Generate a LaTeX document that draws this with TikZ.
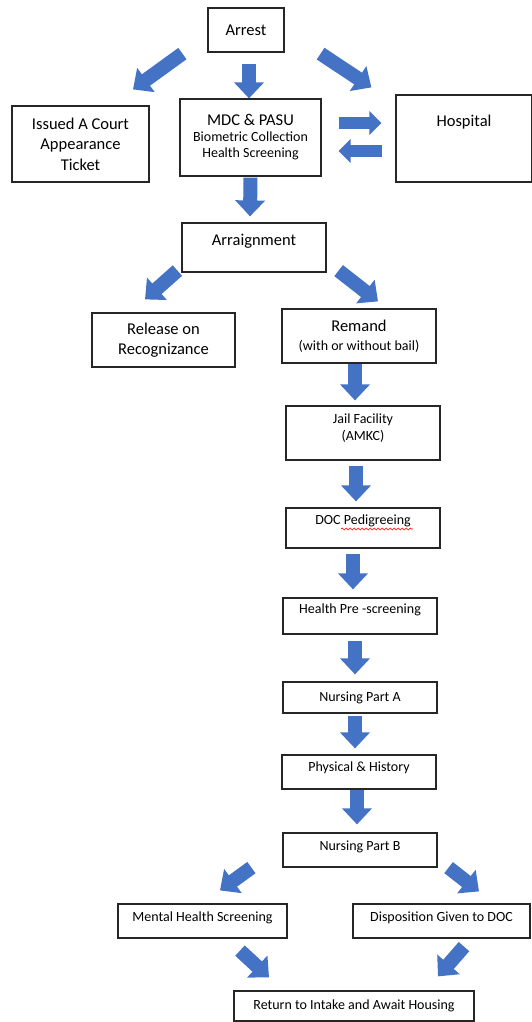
\documentclass[tikz,border=0pt]{standalone}
\usepackage{fontspec}
\setmainfont{Carlito}
\usepackage{tikz}
\usetikzlibrary{positioning,calc,arrows.meta,decorations.pathmorphing}
\definecolor{flowblue}{HTML}{4472C4}
\newcommand{\stagefont}{\fontsize{16.5}{20.5}\selectfont}
\newcommand{\smallstage}{\fontsize{14}{17}\selectfont}
\tikzset{
  stage/.style={draw=black!85, line width=1.2pt, align=center, inner sep=2pt, font=\stagefont},
  small/.style={font=\smallstage},
  lift/.style={text depth=#1},
  blockarrow/.style={flowblue, line width=14pt, -{Triangle[width=29pt,length=16pt]}},
  sidearrow/.style={flowblue, line width=12pt, -{Triangle[width=23pt,length=12pt]}}
}

\begin{document}
\begin{tikzpicture}[x=1pt, y=-1pt]
	\useasboundingbox (0,0) rectangle (531,1022);
	% boxes
	\node[stage, minimum width=76pt, minimum height=44pt] (arrest) at (246,30) {Arrest};
	\node[stage, minimum width=137pt, minimum height=76pt] (issued) at (80.5,144) {Issued A Court\\Appearance\\Ticket};
	\node[stage, minimum width=141pt, minimum height=77pt] (mdc) at (250.5,137.5) {MDC \& PASU\\[-5pt]{\smallstage Biometric Collection}\\[-4pt]{\smallstage Health Screening}};
	\node[stage, minimum width=136pt, minimum height=87pt, lift=36pt] (hospital) at (464,138.5) {Hospital};
	\node[stage, minimum width=144pt, minimum height=49pt, lift=15pt] (arraign) at (254,247.5) {Arraignment};
	\node[stage, minimum width=143pt, minimum height=54pt] (release) at (163.5,340) {Release on\\Recognizance};
	\node[stage, minimum width=154pt, minimum height=54pt] (remand) at (359,336) {Remand\\[-2pt]{\smallstage (with or without bail)}};
	\node[stage, small, minimum width=154pt, minimum height=54pt, lift=12pt] (jail) at (363,433) {Jail Facility\\(AMKC)};
	\node[stage, small, minimum width=154pt, minimum height=40pt, lift=16pt] (doc) at (363,528) {DOC Pedigreeing};
	\node[stage, small, minimum width=154pt, minimum height=36pt, lift=14pt] (prescreen) at (360,616) {Health Pre -screening};
	\node[stage, small, minimum width=154pt, minimum height=31pt] (nursea) at (360,697.5) {Nursing Part A};
	\node[stage, small, minimum width=154pt, minimum height=34pt, lift=10pt] (physical) at (359,772) {Physical \& History};
	\node[stage, small, minimum width=154pt, minimum height=34pt, lift=9pt] (nurseb) at (360,850) {Nursing Part B};
	\node[stage, small, minimum width=169pt, minimum height=34pt, lift=9pt] (mental) at (202.5,921) {Mental Health Screening};
	\node[stage, small, minimum width=177pt, minimum height=34pt, lift=9pt] (dispo) at (441.5,921) {Disposition Given to DOC};
	\node[stage, small, minimum width=240pt, minimum height=30pt] (returnh) at (354,1006) {Return to Intake and Await Housing};
	% spell-check mark
	\draw[red, line width=0.6pt, decorate, decoration={snake, amplitude=1pt, segment length=4pt}]
		($(doc.center)+(-22,1)$) -- ($(doc.center)+(50,1)$);
	% arrows
	\draw[blockarrow] ($(arrest.south west)+(-25,1)$) -- ($(issued.north)+(52.5,-16)$);
	\draw[blockarrow] ($(arrest.south)+(3,11)$) -- ($(mdc.north)+(-1.5,0)$);
	\draw[blockarrow] ($(arrest.south east)+(36,1)$) -- ($(hospital.north west)+(-24,-7)$);
	\draw[sidearrow] ($(mdc.east)+(17,-14.5)$) -- ($(hospital.west)+(-14,-15.5)$);
	\draw[sidearrow] ($(hospital.west)+(-13,12.5)$) -- ($(mdc.east)+(17,13.5)$);
	\draw[blockarrow] ($(mdc.south)+(0,1)$) -- ($(arraign.north)+(-4,-6)$);
	\draw[blockarrow] ($(arraign.south west)+(-4,-2)$) -- ($(release.north)+(-18.5,-13)$);
	\draw[blockarrow] ($(arraign.south east)+(12,-2)$) -- ($(remand.north)+(19,-7)$);
	\draw[blockarrow] ($(remand.south)+(-4,0)$) -- ($(jail.north)+(-8,-5)$);
	\draw[blockarrow] ($(jail.south)+(-7,5)$) -- ($(doc.north)+(-7,-6)$);
	\draw[blockarrow] ($(doc.south)+(-10,5)$) -- ($(prescreen.north)+(-7,-8)$);
	\draw[blockarrow] ($(prescreen.south)+(-5,6)$) -- ($(nursea.north)+(-5,-7)$);
	\draw[blockarrow] ($(nursea.south)+(-5,2)$) -- ($(physical.north)+(-4,-6)$);
	\draw[blockarrow] ($(physical.south)+(-2,0)$) -- ($(nurseb.north)+(-3,-8)$);
	\draw[blockarrow] ($(nurseb.south west)+(-31,0)$) -- ($(mental.north)+(17.5,-13)$);
	\draw[blockarrow] ($(nurseb.south east)+(11,0)$) -- ($(dispo.north)+(37.5,-12)$);
	\draw[blockarrow] ($(mental.south)+(37.5,12)$) -- ($(returnh.north)+(-85,-13)$);
	\draw[blockarrow] ($(dispo.south)+(22.5,8)$) -- ($(returnh.north)+(84,-14)$);
\end{tikzpicture}
\end{document}
